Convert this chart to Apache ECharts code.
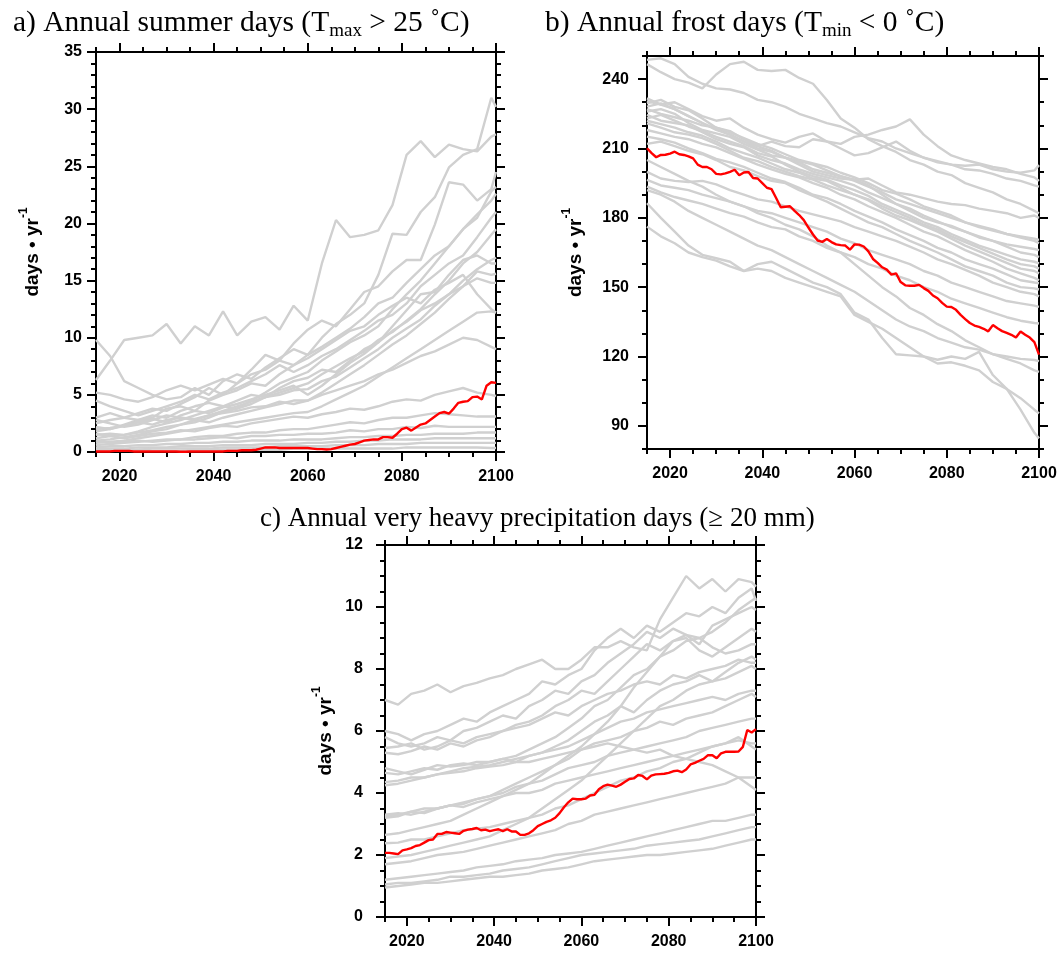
<!DOCTYPE html>
<html><head><meta charset="utf-8">
<script src="https://cdn.jsdelivr.net/npm/echarts@6/dist/echarts.min.js"></script>
<style>html,body{margin:0;padding:0;background:#fff}#c{width:1060px;height:953px}</style>
</head><body><div id="c"></div>
<script>
// ---------- x positions ----------
const annualYears = [];
for (let y = 2015; y <= 2100; y++) annualYears.push(y);
const modelYears = [2015,2018,2021,2024,2027,2030,2033,2036,2039,2042,2045,2048,2051,2054,2057,2060,2063,2066,2069,2072,2075,2078,2081,2084,2087,2090,2093,2096,2099,2100];

// ---------- tick labels ----------
const xMajor = [2020,2040,2060,2080,2100];
const xMinor = [2015,2020,2025,2030,2035,2040,2045,2050,2055,2060,2065,2070,2075,2080,2085,2090,2095,2100];
const yMajorA = [0,5,10,15,20,25,30,35];
const yMinorA = [0,1,2,3,4,5,6,7,8,9,10,11,12,13,14,15,16,17,18,19,20,21,22,23,24,25,26,27,28,29,30,31,32,33,34,35];
const yMajorB = [90,120,150,180,210,240];
const yMinorB = [80,90,100,110,120,130,140,150,160,170,180,190,200,210,220,230,240,250];
const yMajorC = [0,2,4,6,8,10,12];
const yMinorC = [0,0.5,1,1.5,2,2.5,3,3.5,4,4.5,5,5.5,6,6.5,7,7.5,8,8.5,9,9.5,10,10.5,11,11.5,12];

// ---------- a) summer days : highlighted (red) series, annual ----------
const summerRed = [0.05,0.05,0.05,0.05,0.1,0.1,0.1,0.1,0.05,0.05,
0.05,0.05,0.05,0.05,0.05,0.05,0.05,0.05,0.02,0.02,
0.05,0.05,0.05,0.05,0.05,0.05,0.05,0.05,0.1,0.1,
0.1,0.15,0.15,0.15,0.2,0.3,0.4,0.4,0.4,0.35,
0.35,0.35,0.35,0.35,0.35,0.35,0.3,0.25,0.25,0.22,
0.25,0.35,0.45,0.55,0.65,0.7,0.85,1.0,1.05,1.1,
1.1,1.3,1.3,1.25,1.6,2.0,2.13,1.87,2.15,2.4,
2.5,2.8,3.1,3.4,3.5,3.35,3.8,4.3,4.4,4.45,
4.8,4.85,4.6,5.8,6.1,6.05];
// a) models (grey) at modelYears
const summerModels = [
[6.3,8.0,9.8,10.0,10.2,11.2,9.5,11.0,10.2,12.3,10.2,11.4,11.8,10.7,12.8,11.5,16.5,20.3,18.8,19.0,19.4,21.6,26.0,27.2,25.8,26.9,26.5,26.3,27.6,27.8],
[9.8,8.4,6.2,5.6,5.0,4.6,4.8,5.6,5.0,6.2,6.8,6.4,7.4,8.2,9.0,8.5,10.0,11.2,12.0,13.0,15.5,19.1,19.0,21.0,22.3,24.9,26.0,26.5,31.0,30.2],
[2.5,2.8,3.0,3.4,3.8,3.6,4.2,4.8,5.6,5.0,6.0,7.2,8.5,8.0,9.5,10.7,11.5,11.0,12.5,14.0,14.5,15.8,16.8,16.8,19.9,23.6,23.4,22.0,23.0,24.5],
[1.8,2.0,2.4,2.8,3.0,3.8,4.0,3.6,4.5,5.0,5.4,6.0,5.8,6.8,7.6,8.5,9.2,10.0,10.8,11.8,13.0,13.5,14.8,16.0,17.2,18.0,19.5,20.5,22.8,23.2],
[1.5,1.6,1.5,1.8,2.2,2.5,2.8,3.2,3.6,4.0,3.8,4.5,5.2,6.0,6.5,7.0,8.0,8.8,9.6,10.2,11.0,12.5,13.8,15.0,16.5,18.0,19.5,20.8,22.0,22.6],
[4.5,4.0,3.6,3.2,3.6,4.0,4.4,5.0,4.6,5.2,5.6,6.2,6.8,7.6,7.0,7.6,8.4,9.0,9.8,10.6,11.5,12.0,13.0,14.5,15.5,16.5,17.2,18.8,20.5,21.0],
[1.0,1.1,1.3,1.5,1.8,2.0,2.4,2.6,3.0,3.5,3.8,4.2,4.8,5.2,5.6,6.0,6.8,7.5,8.2,8.8,9.8,10.5,11.5,12.5,13.8,15.0,16.5,17.5,19.0,19.5],
[2.8,2.5,2.2,2.4,2.8,3.2,3.0,2.8,3.2,3.6,4.0,4.4,4.8,5.0,5.4,5.5,6.2,6.6,7.4,8.2,9.0,10.0,10.8,11.6,12.8,13.8,15.0,16.0,16.8,17.0],
[2.0,2.1,2.3,2.6,2.9,2.6,3.2,3.6,3.4,3.9,4.2,4.6,5.0,5.4,5.8,5.0,5.8,6.8,7.8,8.6,9.6,11.0,12.4,13.8,14.0,15.5,16.8,17.2,16.5,16.5],
[1.2,1.4,1.5,1.7,1.9,2.2,2.4,2.8,2.6,3.0,3.3,3.6,3.9,4.2,4.5,4.5,5.2,6.0,6.8,7.6,8.5,9.4,10.2,11.2,12.2,13.4,14.5,15.8,15.5,15.6],
[3.0,3.4,3.0,2.8,3.2,3.0,3.6,4.0,4.3,4.0,4.5,5.0,4.8,5.6,6.2,6.5,7.2,7.0,8.0,9.0,9.6,10.6,11.4,12.4,13.0,13.8,14.5,15.2,14.8,14.8],
[0.8,0.9,1.0,1.2,1.4,1.6,1.8,2.0,2.2,2.4,2.6,2.8,3.0,3.2,3.4,3.5,4.0,4.6,5.2,5.8,6.6,7.4,8.2,9.0,9.8,10.6,11.4,12.2,12.3,12.2],
[2.2,2.0,2.3,2.6,2.4,2.8,3.0,2.9,3.2,3.4,3.6,3.9,4.0,4.4,4.2,4.5,5.0,5.4,5.8,6.2,6.8,7.2,7.8,8.4,8.8,9.4,10.0,9.8,9.2,9.0],
[1.6,1.4,1.2,1.4,1.6,1.7,1.9,1.8,2.1,2.3,2.2,2.5,2.7,2.9,3.1,3.0,3.3,3.5,3.8,3.7,4.0,4.4,4.6,4.5,5.0,5.3,5.6,5.2,5.0,4.9],
[0.6,0.7,0.8,0.9,1.0,1.1,1.1,1.3,1.4,1.4,1.6,1.7,1.7,1.9,2.0,2.0,2.2,2.4,2.6,2.5,2.8,3.0,3.0,3.2,3.4,3.3,3.2,3.1,3.1,3.1],
[1.0,0.8,0.9,1.0,0.9,1.0,1.1,1.1,1.2,1.3,1.2,1.4,1.4,1.5,1.5,1.6,1.6,1.7,1.9,1.8,2.0,2.0,2.2,2.1,2.3,2.2,2.2,2.2,2.2,2.2],
[0.4,0.5,0.5,0.6,0.6,0.7,0.7,0.8,0.8,0.9,0.9,1.0,1.0,1.0,1.1,1.1,1.1,1.2,1.3,1.3,1.4,1.4,1.5,1.5,1.6,1.6,1.6,1.7,1.7,1.7],
[0.3,0.3,0.3,0.4,0.4,0.4,0.5,0.5,0.5,0.6,0.6,0.6,0.7,0.7,0.7,0.8,0.8,0.9,0.9,1.0,1.0,1.1,1.1,1.1,1.2,1.2,1.2,1.2,1.2,1.2],
[0.2,0.2,0.2,0.2,0.3,0.3,0.3,0.3,0.3,0.4,0.4,0.4,0.4,0.5,0.5,0.5,0.5,0.6,0.6,0.6,0.7,0.7,0.7,0.8,0.8,0.8,0.8,0.8,0.8,0.8],
[0.1,0.1,0.1,0.1,0.1,0.1,0.1,0.2,0.2,0.2,0.2,0.2,0.2,0.2,0.3,0.3,0.3,0.3,0.3,0.3,0.3,0.3,0.4,0.4,0.4,0.4,0.4,0.4,0.35,0.35],
[5.2,5.0,4.6,4.4,4.8,5.4,5.8,5.4,5.9,6.4,6.0,6.8,7.2,8.0,7.6,8.2,9.0,9.8,10.6,11.0,12.0,12.8,13.5,13.0,14.2,14.8,15.5,13.8,12.5,12.2]
];

// ---------- b) frost days ----------
const frostRed = [210.1,208.0,206.2,207.2,207.3,207.8,208.6,207.5,207.2,206.6,
205.7,203.0,202.0,202.0,201.0,199.0,198.8,199.2,199.9,200.8,
198.4,199.6,199.8,197.2,197.0,195.0,193.0,192.4,188.6,184.6,
184.8,185.0,183.0,181.2,179.0,175.8,172.8,170.2,169.6,170.8,
169.5,168.5,168.2,168.0,166.2,168.5,168.4,167.6,165.5,162.2,
160.5,158.6,157.6,155.4,156.0,152.2,150.8,150.6,150.6,151.0,
149.6,148.4,146.4,145.2,143.2,141.6,141.4,140.2,138.0,136.2,
134.5,133.4,132.8,132.0,130.9,133.6,132.2,131.0,130.2,129.4,
128.2,130.8,129.4,128.2,126.2,120.8];
const frostModels = [
[248.3,249.0,246.5,241.0,238.0,236.0,235.5,234.0,231.0,230.0,228.0,225.0,223.0,221.0,219.5,217.0,214.5,213.0,210.0,208.0,206.0,204.0,203.0,202.5,203.0,201.0,200.0,199.5,200.5,202.8],
[246.5,243.0,240.0,238.5,236.0,242.0,246.5,247.5,244.0,243.5,244.0,240.5,238.0,231.0,223.0,219.0,214.0,211.0,208.5,205.0,203.0,200.0,198.5,195.0,193.0,191.0,188.0,186.0,183.0,182.0],
[231.7,229.0,227.0,224.0,221.0,218.0,216.0,213.0,211.0,213.0,211.0,210.5,214.0,213.0,212.0,215.0,216.0,218.0,219.5,222.6,216.0,211.0,207.0,205.0,203.5,202.0,201.0,199.0,197.5,196.0],
[230.5,229.0,230.0,227.0,224.0,222.0,223.0,219.0,216.0,214.0,212.5,215.0,216.5,213.0,210.0,207.0,208.0,210.5,213.0,209.0,206.0,204.5,203.0,201.0,200.5,199.0,197.0,196.0,194.0,193.5],
[229.5,231.0,228.0,226.5,223.0,219.0,217.5,214.0,211.0,209.0,206.0,204.5,203.0,200.5,198.0,196.5,197.0,194.0,191.0,190.0,188.5,187.0,186.0,185.5,184.0,183.0,182.0,180.0,181.0,180.0],
[228.1,229.5,227.0,224.0,221.0,218.5,216.0,213.0,210.0,208.5,206.0,204.0,201.0,199.5,198.0,196.0,193.5,191.0,188.0,186.0,184.0,182.0,180.0,178.0,176.0,174.5,173.0,172.0,171.0,170.4],
[227.0,225.0,223.5,222.0,220.0,219.0,217.0,214.5,212.0,210.0,207.5,205.0,203.5,202.0,199.5,197.5,195.0,192.0,190.5,188.0,185.0,183.0,181.0,178.0,176.5,175.0,173.0,171.5,170.0,169.0],
[226.0,227.0,225.0,221.0,218.0,216.5,215.0,212.0,209.5,207.0,206.0,203.0,200.0,198.5,197.0,196.5,194.0,190.0,186.0,183.0,180.0,178.0,176.5,174.0,172.0,170.0,168.5,167.5,166.5,166.0],
[224.5,222.0,221.0,220.0,217.0,214.0,212.0,210.5,207.0,205.0,203.5,201.0,199.0,197.5,196.0,194.0,191.0,188.5,186.0,184.0,181.0,178.5,176.0,174.0,171.5,170.0,167.5,165.0,164.0,163.0],
[223.0,224.5,222.0,219.5,217.5,215.0,213.0,211.0,208.0,206.5,203.0,200.0,198.0,196.5,194.0,192.0,189.5,186.0,183.5,181.0,178.0,176.0,173.0,170.5,168.0,166.0,164.0,162.0,161.0,160.3],
[222.0,220.5,219.0,217.0,215.5,213.0,210.0,208.0,206.0,203.5,201.0,199.5,197.0,196.0,193.0,190.0,188.0,185.0,182.5,180.0,177.0,175.0,172.0,169.5,167.0,164.5,162.0,160.0,159.0,158.0],
[220.9,219.0,217.0,216.0,214.5,212.0,209.0,206.0,204.5,202.0,200.0,198.0,196.5,194.0,192.0,190.0,187.5,184.0,181.0,179.0,176.5,174.0,171.0,168.0,165.5,163.0,160.5,158.0,157.0,156.0],
[218.0,216.5,215.0,214.0,212.0,210.5,208.0,205.5,203.0,201.0,199.0,197.5,195.0,193.0,190.0,188.0,185.0,182.5,180.0,177.0,174.0,172.0,169.0,166.0,163.5,161.0,158.0,156.0,154.0,153.0],
[215.1,214.0,212.5,210.0,208.0,205.5,204.0,202.0,199.5,197.0,195.5,193.0,190.0,188.5,186.0,183.0,180.5,178.0,175.0,172.5,170.0,167.0,165.0,162.0,160.0,158.0,155.5,153.0,152.0,151.7],
[212.0,213.0,211.0,209.0,207.5,205.0,202.0,200.5,198.0,196.0,195.0,192.0,189.5,187.0,184.0,181.0,178.0,176.0,173.0,170.0,167.5,165.0,162.0,159.0,157.0,155.0,152.0,150.0,149.5,149.0],
[199.9,197.0,196.0,195.5,196.0,194.5,192.0,190.0,188.0,187.0,185.0,183.0,181.5,180.0,178.5,176.0,174.0,172.0,170.0,167.5,165.0,162.0,160.0,157.5,155.0,152.0,150.0,148.0,147.0,146.0],
[196.4,194.0,193.0,192.0,190.0,188.5,187.0,185.0,183.0,182.0,180.0,178.0,176.0,174.0,171.0,169.0,166.0,164.0,162.0,160.0,157.0,155.0,152.0,150.0,148.0,146.0,144.0,143.0,142.0,141.5],
[193.5,191.0,189.0,187.5,186.0,184.0,182.0,180.5,178.0,176.0,175.0,172.0,170.0,167.0,165.0,163.0,160.0,158.0,155.0,153.0,150.0,148.0,145.0,143.0,141.0,139.0,137.0,135.5,134.5,134.3],
[205.0,202.0,199.0,196.0,193.5,190.0,187.0,185.0,182.0,180.0,177.0,175.0,172.0,168.0,165.0,160.0,155.0,150.0,146.0,141.0,138.0,134.0,131.0,127.0,124.0,121.0,119.0,117.0,114.0,113.4],
[176.2,172.0,169.0,165.0,163.0,161.5,159.0,157.0,158.0,157.0,154.0,152.0,150.0,148.0,146.0,138.0,135.0,132.0,128.0,124.0,120.0,117.0,117.5,116.0,114.0,109.0,106.0,102.0,97.0,95.4],
[186.3,180.0,174.0,168.0,164.0,162.5,161.0,157.0,160.0,161.0,158.0,155.0,152.0,150.0,147.0,139.0,136.0,128.0,121.0,120.5,120.0,118.6,120.0,119.0,122.0,112.0,106.0,97.0,87.0,84.6],
[192.0,190.0,187.0,183.0,180.0,177.0,174.0,171.0,168.0,166.0,163.0,160.0,157.0,154.0,151.0,148.0,144.0,140.0,136.0,133.0,131.0,128.0,126.0,124.0,123.0,121.0,120.0,119.0,118.5,118.0]
];

// ---------- c) very heavy precipitation days ----------
const precipRed = [2.07,2.07,2.05,2.03,2.15,2.18,2.22,2.29,2.32,2.40,
2.48,2.50,2.68,2.68,2.74,2.72,2.70,2.68,2.78,2.82,
2.84,2.87,2.80,2.82,2.77,2.80,2.83,2.77,2.83,2.76,
2.76,2.65,2.65,2.70,2.80,2.93,3.00,3.07,3.12,3.20,
3.35,3.54,3.70,3.82,3.80,3.80,3.82,3.92,3.94,4.12,
4.22,4.27,4.24,4.20,4.27,4.36,4.45,4.47,4.58,4.55,
4.44,4.56,4.60,4.61,4.62,4.65,4.70,4.72,4.67,4.76,
4.92,4.97,5.04,5.10,5.22,5.22,5.12,5.28,5.33,5.33,
5.33,5.34,5.49,6.03,5.95,6.06];
const precipModels = [
[7.0,6.85,7.2,7.3,7.5,7.25,7.45,7.55,7.7,7.8,8.0,8.15,8.3,8.0,8.0,8.3,8.7,8.7,8.9,8.7,8.6,9.6,10.3,11.0,10.6,10.9,10.5,10.9,10.8,10.66],
[6.0,5.9,5.7,5.9,6.0,6.2,6.4,6.3,6.6,6.8,7.0,7.2,7.6,7.5,7.8,8.0,8.6,9.0,9.3,9.0,9.4,9.2,9.5,9.8,9.7,10.0,9.8,10.3,10.6,10.2],
[5.8,5.6,5.5,5.6,5.8,5.7,6.0,6.1,6.3,6.5,6.4,6.8,7.0,7.3,7.2,7.6,7.8,8.2,8.5,8.8,9.2,9.0,9.3,9.1,8.8,9.4,9.6,9.8,10.0,9.9],
[5.45,5.5,5.6,5.4,5.5,5.7,5.6,5.8,5.9,6.0,6.2,6.3,6.5,6.8,7.0,7.3,7.2,7.6,8.0,8.4,8.8,8.6,8.9,9.0,8.6,8.4,8.7,9.0,9.3,9.2],
[5.3,5.25,5.35,5.5,5.4,5.6,5.5,5.7,5.8,6.0,6.1,6.2,6.4,6.6,6.5,6.8,7.0,7.2,7.3,7.5,7.6,7.5,7.8,7.7,7.9,8.0,8.1,8.3,8.2,8.2],
[4.8,4.7,4.6,4.75,4.9,4.85,4.9,5.0,5.0,5.1,5.2,5.4,5.6,5.8,6.1,6.4,6.8,7.0,7.4,7.8,8.0,8.4,8.6,8.9,9.0,8.7,8.5,8.6,8.8,8.8],
[4.65,4.6,4.7,4.8,4.75,4.9,4.95,4.9,5.0,5.1,5.0,5.2,5.3,5.5,5.7,6.0,6.3,6.5,6.8,6.6,7.0,7.3,7.5,7.6,7.8,7.6,7.7,7.9,8.1,8.0],
[4.35,4.4,4.5,4.5,4.6,4.7,4.8,4.85,4.9,5.0,5.1,5.2,5.3,5.4,5.5,5.7,5.9,6.1,6.3,6.4,6.6,6.7,6.8,6.9,7.0,7.1,7.0,7.2,7.3,7.3],
[4.25,4.3,4.4,4.5,4.6,4.65,4.7,4.8,4.85,4.9,5.0,5.0,5.1,5.2,5.3,5.4,5.5,5.6,5.5,5.4,5.3,5.4,5.2,5.1,5.0,4.9,4.7,4.5,4.2,4.1],
[3.3,3.35,3.3,3.4,3.5,3.6,3.65,3.8,3.9,4.1,4.3,4.5,4.7,4.9,5.1,5.4,5.6,5.7,5.8,6.0,6.1,6.3,6.2,6.4,6.5,6.6,6.8,7.0,7.2,7.1],
[3.2,3.25,3.4,3.5,3.5,3.6,3.7,3.8,3.9,4.0,4.2,4.3,4.4,4.6,4.8,4.9,5.0,5.2,5.3,5.4,5.5,5.6,5.7,5.8,6.0,6.1,6.2,6.3,6.4,6.4],
[2.65,2.7,2.8,2.9,3.0,3.1,3.3,3.5,3.7,3.9,4.1,4.3,4.6,4.9,5.2,5.5,5.9,6.3,6.8,7.4,7.9,8.4,8.9,9.1,9.0,9.2,9.5,9.9,10.2,10.3],
[2.38,2.4,2.5,2.5,2.6,2.7,2.8,2.85,2.9,3.0,3.1,3.2,3.3,3.5,3.6,3.8,4.0,4.2,4.4,4.5,4.7,4.8,5.0,5.1,5.3,5.5,5.6,5.8,5.5,5.4],
[1.9,1.95,2.0,2.1,2.2,2.3,2.4,2.5,2.6,2.8,3.0,3.2,3.5,3.8,4.1,4.4,4.8,5.2,5.6,6.0,6.4,6.8,7.0,7.3,7.5,7.6,7.9,8.2,8.4,8.3],
[1.7,1.75,1.8,1.9,2.0,2.05,2.1,2.2,2.3,2.4,2.5,2.6,2.7,2.8,3.0,3.1,3.3,3.4,3.5,3.6,3.7,3.8,3.9,4.0,4.1,4.2,4.3,4.5,4.5,4.5],
[1.2,1.25,1.3,1.35,1.4,1.45,1.5,1.6,1.65,1.7,1.8,1.85,1.9,2.0,2.05,2.1,2.2,2.3,2.4,2.5,2.6,2.7,2.8,2.9,3.0,3.1,3.1,3.2,3.3,3.3],
[1.05,1.1,1.1,1.15,1.2,1.3,1.3,1.35,1.4,1.5,1.55,1.6,1.7,1.8,1.9,2.0,2.05,2.1,2.15,2.2,2.3,2.35,2.4,2.45,2.5,2.6,2.7,2.8,2.9,2.9],
[0.95,1.0,1.05,1.1,1.1,1.15,1.2,1.25,1.3,1.3,1.35,1.4,1.5,1.55,1.6,1.7,1.8,1.85,1.9,1.95,2.0,2.0,2.05,2.1,2.15,2.2,2.3,2.4,2.5,2.5],
[3.25,3.3,3.4,3.35,3.5,3.6,3.55,3.7,3.8,3.9,4.0,4.0,4.1,4.3,4.4,4.5,4.6,4.7,4.8,4.9,5.0,5.1,5.2,5.3,5.4,5.5,5.6,5.7,5.6,5.6]
];

// ---------- build ----------
const GREY = '#d0d0d0', RED = '#ff0000';
const LBL = {color:'#000', fontFamily:'Liberation Sans, Arial, sans-serif', fontWeight:'bold', fontSize:16,
             formatter: function (v) { return String(v); }};

function axisPair(gi, pos, min, max, major, minor, label, extra) {
  const main = Object.assign({
    gridIndex: gi, type: 'value', position: pos, min: min, max: max, scale: true,
    axisLine: {show: true, onZero: false, lineStyle: {color: '#000', width: 2}},
    axisTick: {show: true, inside: false, length: 9, lineStyle: {color: '#000', width: 2}, customValues: major},
    axisLabel: label ? Object.assign({show: true, customValues: major}, LBL, label) : {show: false},
    splitLine: {show: false}, minorTick: {show: false}
  }, extra || {});
  const mn = {
    gridIndex: gi, type: 'value', position: pos, min: min, max: max, scale: true,
    axisLine: {show: false, onZero: false},
    axisTick: {show: true, inside: false, length: 5, lineStyle: {color: '#000', width: 2}, customValues: minor},
    axisLabel: {show: false}, splitLine: {show: false}
  };
  return [main, mn];
}

function yName(gap) {
  return {
    name: '{a|days \u2022 yr}{b|-1}', nameLocation: 'middle', nameGap: gap, nameRotate: 90,
    nameTextStyle: {rich: {
      a: {fontFamily: 'Liberation Sans, Arial, sans-serif', fontWeight: 'bold', fontSize: 19, color: '#000', lineHeight: 24, verticalAlign: 'bottom'},
      b: {fontFamily: 'Liberation Sans, Arial, sans-serif', fontWeight: 'bold', fontSize: 12, color: '#000', lineHeight: 12, verticalAlign: 'top'}
    }}
  };
}

const panels = [
  {grid: {left: 96, top: 52, width: 400, height: 400}, ymin: 0, ymax: 35, yMaj: yMajorA, yMin: yMinorA, red: summerRed, models: summerModels, ylm: 14, gap: 54},
  {grid: {left: 647, top: 56, width: 392, height: 393}, ymin: 80, ymax: 250, yMaj: yMajorB, yMin: yMinorB, red: frostRed, models: frostModels, ylm: 18, gap: 62},
  {grid: {left: 385, top: 545, width: 371, height: 372}, ymin: 0, ymax: 12, yMaj: yMajorC, yMin: yMinorC, red: precipRed, models: precipModels, ylm: 22, gap: 50}
];

const grids = [], xAxes = [], yAxes = [], series = [];
panels.forEach((p, gi) => {
  grids.push(Object.assign({outerBoundsMode: 'none', containLabel: false}, p.grid));
  const xb = axisPair(gi, 'bottom', 2015, 2100, xMajor, xMinor, {margin: 17});
  const xt = axisPair(gi, 'top', 2015, 2100, xMajor, xMinor, null);
  const yl = axisPair(gi, 'left', p.ymin, p.ymax, p.yMaj, p.yMin, {margin: p.ylm}, yName(p.gap));
  const yr = axisPair(gi, 'right', p.ymin, p.ymax, p.yMaj, p.yMin, null);
  const xi = xAxes.length, yi = yAxes.length;
  xAxes.push(xb[0], xb[1], xt[0], xt[1]);
  yAxes.push(yl[0], yl[1], yr[0], yr[1]);
  p.models.forEach((vals) => {
    series.push({
      type: 'line', xAxisIndex: xi, yAxisIndex: yi, silent: true, showSymbol: false, symbol: 'none',
      lineStyle: {color: GREY, width: 2.4}, z: 2,
      data: modelYears.map((yr, i) => [yr, vals[i]])
    });
  });
  series.push({
    type: 'line', xAxisIndex: xi, yAxisIndex: yi, silent: true, showSymbol: false, symbol: 'none',
    lineStyle: {color: RED, width: 2.4}, z: 5,
    data: annualYears.map((yr, i) => [yr, p.red[i]])
  });
});

function titleRich(size) {
  return {
    fontWeight: 'normal',
    rich: {
      m: {fontFamily: 'Liberation Serif, Times New Roman, serif', fontWeight: 'normal', fontSize: size, color: '#000', lineHeight: Math.round(size * 1.2)},
      s: {fontFamily: 'Liberation Serif, Times New Roman, serif', fontWeight: 'normal', fontSize: Math.round(size * 0.64), color: '#000', lineHeight: Math.round(size * 0.7), verticalAlign: 'bottom'}
    }
  };
}

const chart = echarts.init(document.getElementById('c'), null, {renderer: 'canvas'});
chart.setOption({
  animation: false,
  backgroundColor: '#fff',
  title: [
    {left: 8, top: 1, text: '{m|a) Annual summer days (T}{s|max}{m| > 25 \u02DAC)}', textStyle: titleRich(29.5)},
    {left: 540, top: 1, text: '{m|b) Annual frost days (T}{s|min}{m| < 0 \u02DAC)}', textStyle: titleRich(29.5)},
    {left: 255, top: 498, text: '{m|c) Annual very heavy precipitation days (\u2265 20 mm)}', textStyle: titleRich(27)}
  ],
  grid: grids, xAxis: xAxes, yAxis: yAxes, series: series
});
</script></body></html>
